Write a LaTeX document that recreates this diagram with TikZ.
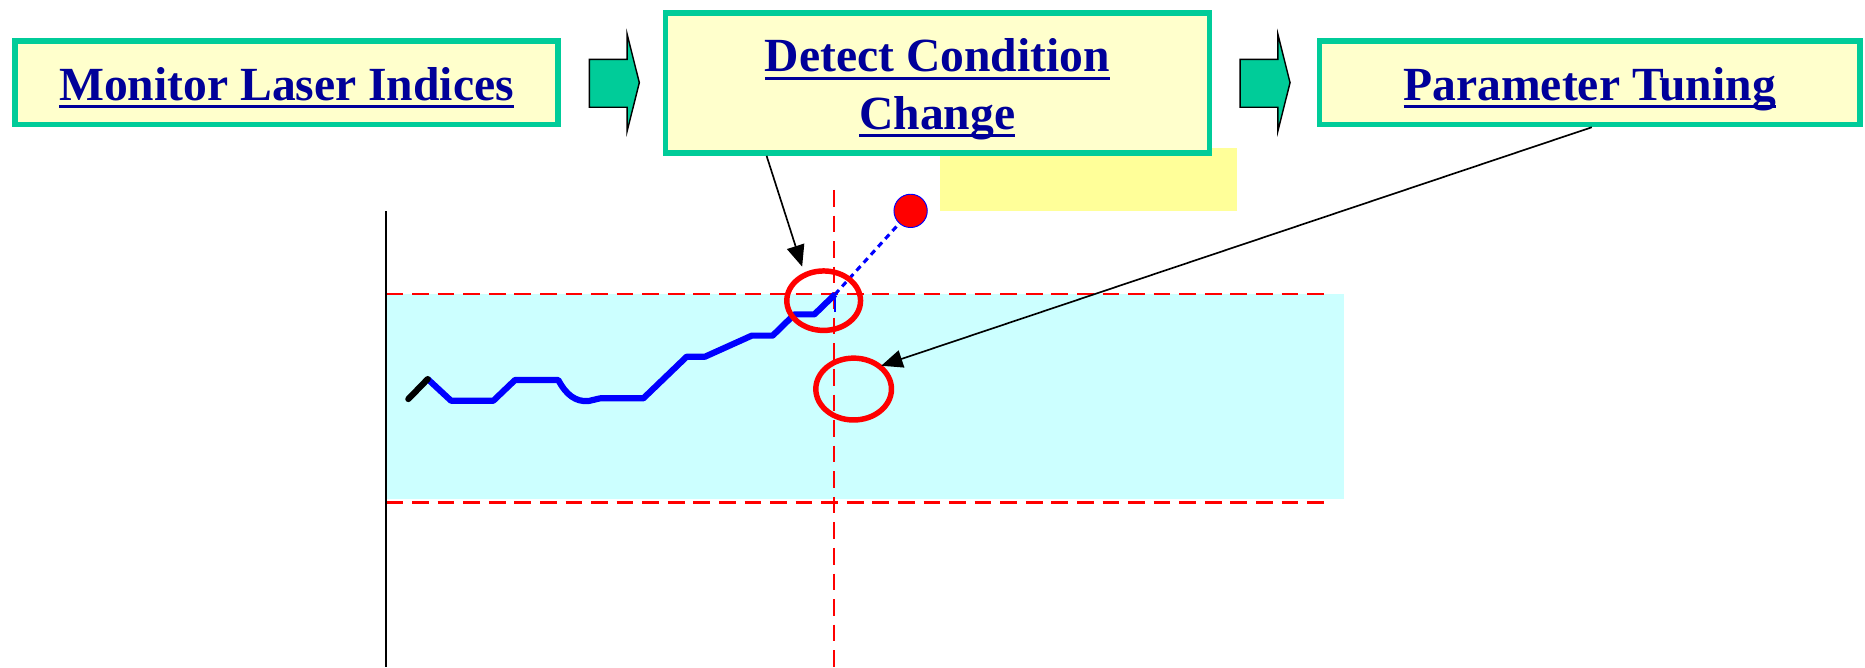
\documentclass[tikz,border=0pt]{standalone}
\usepackage{fontspec}
\setmainfont{Liberation Serif}
\usetikzlibrary{arrows.meta,shapes.geometric}
\definecolor{teal1}{RGB}{0,204,153}
\definecolor{paleyel}{RGB}{255,255,204}
\definecolor{yel}{RGB}{255,255,153}
\definecolor{cyanband}{RGB}{204,255,255}
\definecolor{txtblue}{RGB}{0,0,153}
\definecolor{curveblue}{RGB}{0,0,255}
\newsavebox\ulbox
\newcommand\myul[1]{\sbox\ulbox{#1}\rlap{\rule[-3.5pt]{\wd\ulbox}{1.4pt}}\usebox\ulbox}
\tikzset{
 stagebox/.style={draw=teal1, fill=paleyel, line width=2.4pt, inner sep=0pt},
 stagetext/.style={text=txtblue, font=\fontsize{20}{24}\selectfont\bfseries, inner sep=0pt, align=center},
 blockarrow/.style={fill=teal1, draw=black, line width=0.6pt, line join=miter},
 reddash/.style={red, dash pattern=on 7pt off 3.75pt, line width=1pt},
 curve/.style={curveblue, line width=2.6pt, line join=round},
 ring/.style={draw=red, line width=2.3pt, ellipse, inner sep=0pt},
 callout/.style={black, line width=0.7pt, -{Triangle[length=9pt,width=7.5pt]}},
}
\begin{document}
\begin{tikzpicture}[x=0.5pt,y=0.5pt]
\useasboundingbox (0,0) rectangle (1568,-561);
% chart
\fill[cyanband] (325,-247.2) rectangle (1130.2,-419.8);
\draw[reddash, line width=0.85pt] (325,-247.5) -- (1117.7,-247.5);
\draw[reddash, line width=1.1pt] (325,-422.6) -- (1117.7,-422.6);
\draw[reddash] (701.2,-159.7) -- (701.2,-561);
\draw[black, line width=0.5pt] (324.6,-177.4) -- (324.6,-561);
\draw[curve] (359.6,-318.7) -- (379.2,-336.9) -- (414.8,-336.9) -- (433,-319.5) -- (469.4,-319.5) .. controls (476,-332) and (484,-338) .. (494.7,-337.2) -- (504.5,-334.9) -- (540.9,-334.9) -- (577.3,-299.9) -- (592.7,-299.9) -- (632,-282.2) -- (649.6,-282.2) -- (667.9,-264.3) -- (684.7,-264.3) -- (702,-247.5);
\draw[black, line width=2.6pt, line cap=round] (343.3,-335.5) -- (359.6,-318.7);
\draw[curveblue, line width=0.8pt] (702,-247.5) -- (702,-262);
\node[circle, fill=red, draw=curveblue, line width=0.4pt, minimum size=14pt, inner sep=0pt] (dot) at (765.6,-177.3) {};
\coordinate (cross) at (702,-247.5);
\draw[curveblue, line width=1.3pt, dash pattern=on 2.5pt off 2pt] (cross) -- (dot);
\node[ring, minimum width=31pt, minimum height=25pt] (ringA) at (692.5,-252.8) {};
\node[ring, minimum width=31.8pt, minimum height=26pt] (ringB) at (717.7,-327.1) {};
% yellow patch
\fill[yel] (790,-124.7) rectangle (1040,-177.4);
% stage boxes
\node[stagebox, minimum width=228.5pt, minimum height=35pt] (mon) at (240.9,-69.6) {};
\node[stagetext, anchor=base] (monT) at (240.9,-84.1) {\myul{Monitor Laser Indices}};
\node[stagebox, minimum width=228.7pt, minimum height=58.85pt] (det) at (788.1,-69.65) {};
\node[stagetext, anchor=base] (detT) at (788.1,-108.5) {\myul{Detect Condition}\\\myul{Change}};
\node[stagebox, minimum width=227.1pt, minimum height=35pt] (par) at (1336.5,-69.6) {};
\node[stagetext, anchor=base] (parT) at (1336.5,-84.1) {\myul{Parameter Tuning}};
% block arrows
\draw[blockarrow] (495.5,-49.9) -- (527.3,-49.9) -- (527.3,-28.9) -- (537.5,-69.5) -- (527.3,-110.1) -- (527.3,-90.2) -- (495.5,-90.2) -- cycle;
\draw[blockarrow] (1042.6,-49.9) -- (1074.4,-49.9) -- (1074.4,-28.9) -- (1084.6,-69.5) -- (1074.4,-110.1) -- (1074.4,-90.2) -- (1042.6,-90.2) -- cycle;
% callouts
\coordinate (c1s) at (644.5,-131);
\coordinate (c1e) at (674.4,-224.2);
\coordinate (c2s) at (1338.3,-107);
\coordinate (c2e) at (740.9,-307.5);
\draw[callout] (c1s) -- (c1e);
\draw[callout] (c2s) -- (c2e);
\end{tikzpicture}
\end{document}
